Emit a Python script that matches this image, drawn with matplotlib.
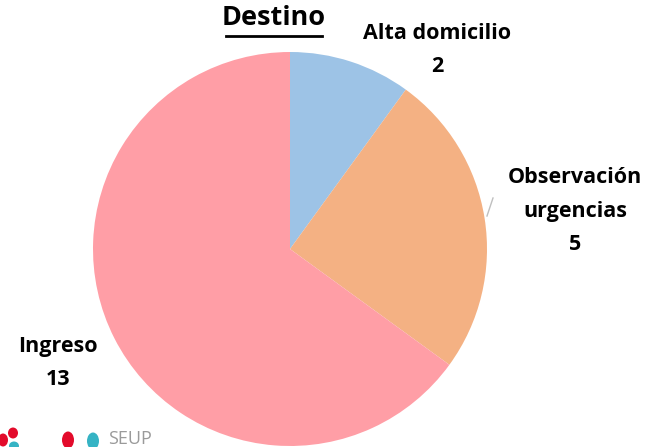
import matplotlib.pyplot as plt
from matplotlib.patches import Ellipse

categorias = ['Alta domicilio', 'Observación urgencias', 'Ingreso']
valores = [2, 5, 13]
colores = ['#9DC3E6', '#F4B183', '#FF9EA6']

H = 447  # alto en pixeles, para pasar de coordenadas de pantalla

fig = plt.figure(figsize=(6.46, 4.47), dpi=100)
ax = fig.add_axes([0, 0, 1, 1])

ax.pie(valores, colors=colores, startangle=90, counterclock=False,
       center=(290, H - 249), radius=197, frame=True,
       wedgeprops=dict(linewidth=0))
ax.set_xlim(0, 646)
ax.set_ylim(0, H)
ax.set_aspect('equal')
ax.axis('off')

# Etiquetas
fuente = dict(family='Open Sans', weight='bold', fontsize=15.5, color='black',
              ha='center', va='center', linespacing=1.8)
ax.text(437, H - 50, 'Alta domicilio\n2', **fuente)
ax.text(575, H - 211, 'Observación\nurgencias\n5', **fuente)
ax.text(58, H - 363, 'Ingreso\n13', **fuente)
ax.plot([487, 493], [H - 216, H - 198], color='#BFBFBF', lw=1)

# Titulo subrayado
ax.text(274, H - 18, 'Destino', family='Open Sans', weight='bold', fontsize=19.5,
        ha='center', va='center')
ax.plot([226, 322], [H - 36, H - 36], color='black', lw=2)

# Logo SEUP
for x, y, w, h, c in [(3, 440, 10, 13, '#E30B2B'), (13, 433, 10, 11, '#E30B2B'),
                      (14, 446, 10, 9, '#35B3C4'),
                      (68, 440, 12, 17, '#E30B2B'), (93, 441, 12, 17, '#35B3C4')]:
    ax.add_patch(Ellipse((x, H - y), w, h, color=c, lw=0))
ax.text(108, H - 439, 'SEUP', family='Open Sans', fontsize=13, color='#9A9A9A',
        ha='left', va='center')

fig.savefig('out.png', dpi=100)
